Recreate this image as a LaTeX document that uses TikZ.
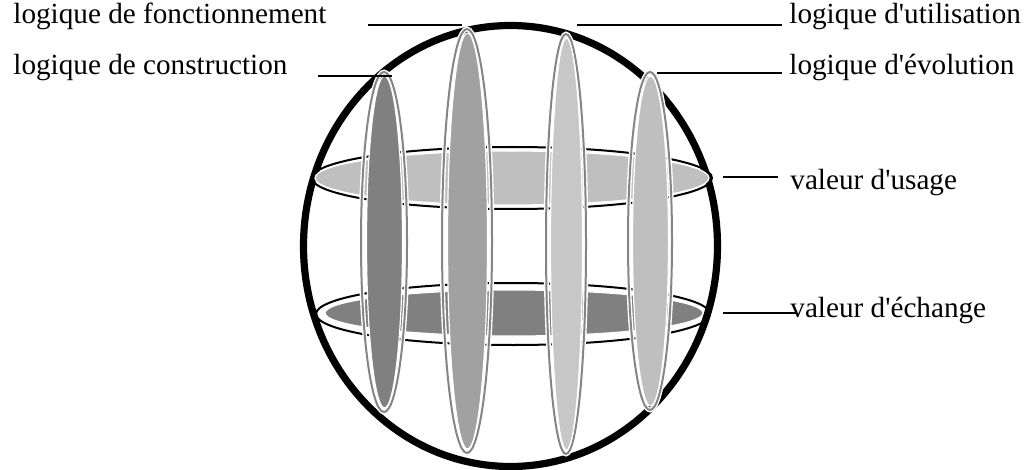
\documentclass[tikz,border=0pt]{standalone}
\usepackage{fontspec}
\setmainfont{Liberation Serif}

\begin{document}
\begin{tikzpicture}[x=0.5pt, y=-0.5pt, every node/.style={font=\fontsize{14.6}{17}\selectfont}, lbl/.style={anchor=base west, inner sep=0pt}, lead/.style={line width=1pt}, disk/.style={draw=black, line width=1pt}, vring/.style={draw=black!48, line width=1pt, preaction={draw=white, line width=2.4pt}}, vfill/.style={draw=white, line width=0.6pt}]
\useasboundingbox (0,0) rectangle (1026,470);
% sphere
\draw[line width=3.6pt] (510.5,246) ellipse [x radius=207, y radius=220.5];
% valeur d'usage / valeur d'echange
\draw[disk] (512,178) ellipse [x radius=200, y radius=31];
\fill[black!25, draw=white, line width=0.6pt] (512,178) ellipse [x radius=197, y radius=27];
\draw[disk] (513,314) ellipse [x radius=197, y radius=31];
\fill[black!50, draw=white, line width=0.6pt] (514,313) ellipse [x radius=189, y radius=23];
% four logics
\draw[vring] (384,242) ellipse [x radius=23, y radius=170];
\fill[black!50, vfill] (384.5,242) ellipse [x radius=18, y radius=166];
\draw[vring] (467,241) ellipse [x radius=25, y radius=212];
\fill[black!37, vfill] (467.5,241) ellipse [x radius=20, y radius=208];
\draw[vring] (566,244) ellipse [x radius=20, y radius=210];
\fill[black!22, vfill] (566.5,244) ellipse [x radius=16, y radius=206];
\draw[vring] (650,241) ellipse [x radius=22, y radius=169];
\fill[black!25, vfill] (650.5,241) ellipse [x radius=18, y radius=165];
% labels
\node[lbl] (fonct) at (13,24) {logique de fonctionnement};
\node[lbl] (constr) at (13,75) {logique de construction};
\node[lbl] (util) at (789,24) {logique d\textquotesingle utilisation};
\node[lbl] (evol) at (789,75) {logique d\textquotesingle évolution};
\node[lbl] (usage) at (790,190) {valeur d\textquotesingle usage};
\node[lbl] (echange) at (790,317) {valeur d\textquotesingle échange};
% leaders
\coordinate (fonct-a) at (368,25);
\coordinate (fonct-b) at (462,25);
\coordinate (constr-a) at (318,76);
\coordinate (constr-b) at (392,76);
\coordinate (util-a) at (577,25);
\coordinate (util-b) at (782,25);
\coordinate (evol-a) at (657,73);
\coordinate (evol-b) at (782,73);
\coordinate (usage-a) at (723,177);
\coordinate (usage-b) at (778,177);
\coordinate (echange-a) at (723,313);
\coordinate (echange-b) at (797,313);
\draw[lead] (fonct-a) -- (fonct-b);
\draw[lead] (constr-a) -- (constr-b);
\draw[lead] (util-a) -- (util-b);
\draw[lead] (evol-a) -- (evol-b);
\draw[lead] (usage-a) -- (usage-b);
\draw[lead] (echange-a) -- (echange-b);
\end{tikzpicture}
\end{document}
